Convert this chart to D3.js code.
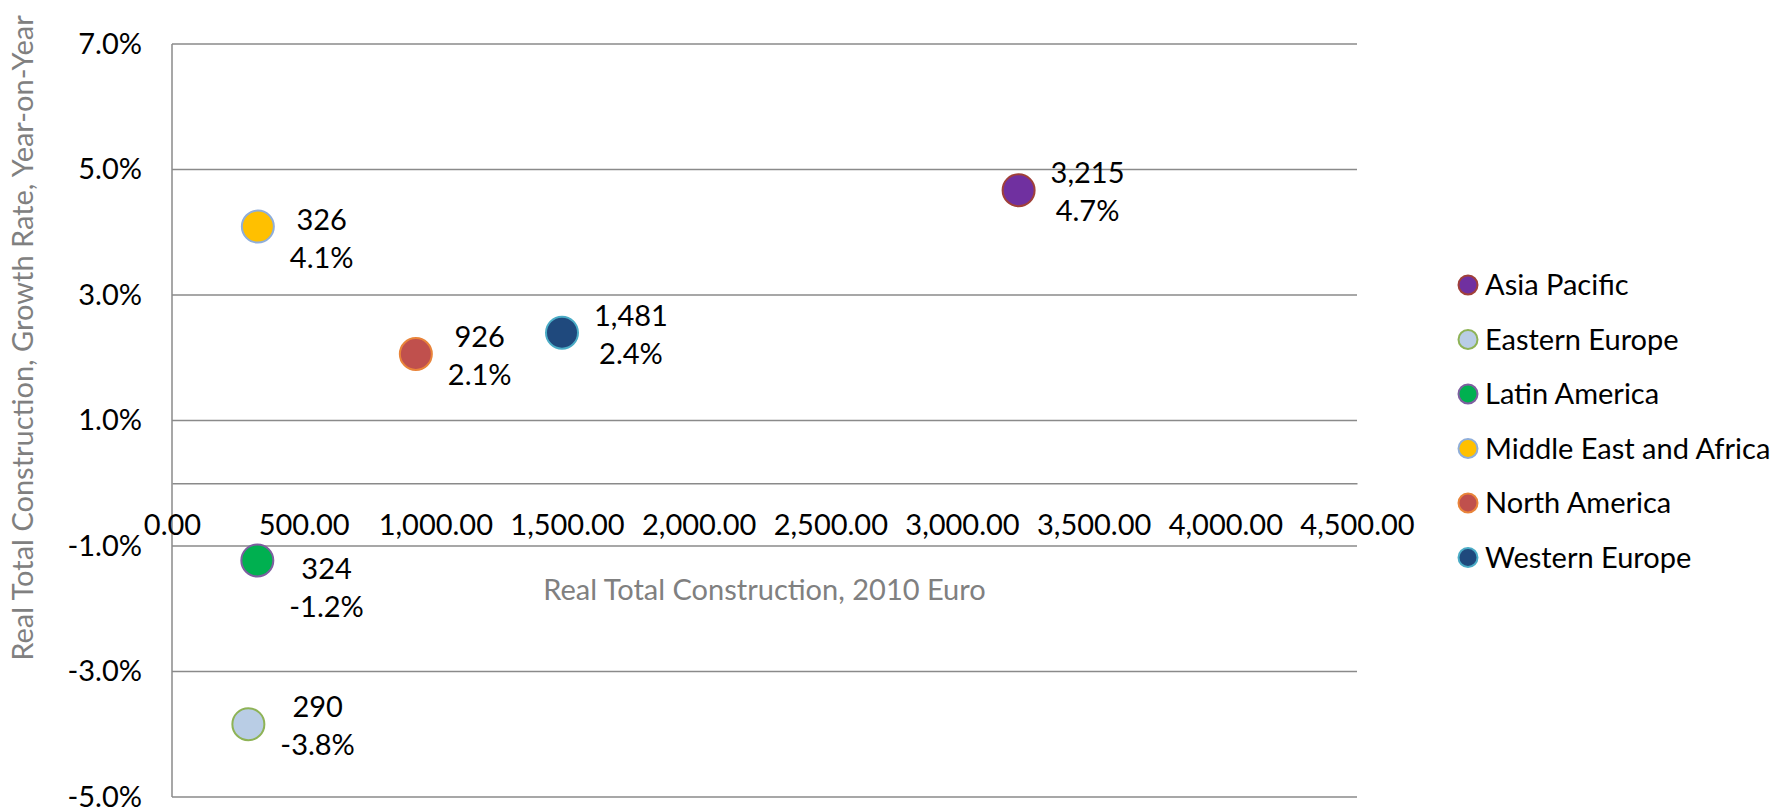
<!DOCTYPE html>
<html>
<head>
<meta charset="utf-8">
<script src="https://cdn.jsdelivr.net/npm/d3@7"></script>
<style>
  html, body { margin: 0; padding: 0; background: #ffffff; }
  svg { display: block; }
  text { font-family: Lato, "Open Sans", sans-serif; }
</style>
</head>
<body>
<svg id="chart" width="1789" height="811"></svg>
<script>
// ---- data ----
const regions = ["Asia Pacific", "Eastern Europe", "Latin America", "Middle East and Africa", "North America", "Western Europe"];
const construction = [3215, 290, 324, 326, 926, 1481];
const growth = [4.67, -3.84, -1.23, 4.09, 2.06, 2.40];
const xTicks = [0, 500, 1000, 1500, 2000, 2500, 3000, 3500, 4000, 4500];
const yTicks = [7, 5, 3, 1, -1, -3, -5];
const xTitle = "Real Total Construction, 2010 Euro";
const yTitle = "Real Total Construction, Growth Rate, Year-on-Year";

// ---- styles ----
const fills   = ["#7030A0", "#B9CDE5", "#00B050", "#FFC000", "#C0504D", "#1F497D"];
const strokes = ["#A0403A", "#8EB356", "#7E5FA0", "#8FAEDA", "#E9843A", "#4BACC6"];
const labelShiftY = [2, 2, 28, 12, 2, 2];

const loc = d3.formatLocale({ decimal: ".", thousands: ",", grouping: [3], currency: ["", ""], minus: "-" });

const svg = d3.select("#chart");
const pL = 172, pR = 1357, pT = 44, pB = 797;
const FS = 29;

const x = d3.scaleLinear().domain([0, 4500]).range([pL, pR]);
const y = d3.scaleLinear().domain([-5, 7]).range([pB, pT]);

const gridColor = "#8a8a8a";

// horizontal gridlines
svg.append("g").selectAll("line").data(yTicks).join("line")
  .attr("x1", pL).attr("x2", pR)
  .attr("y1", d => y(d)).attr("y2", d => y(d))
  .attr("stroke", gridColor).attr("stroke-width", 1.5);

// y axis line
svg.append("line").attr("x1", pL).attr("x2", pL)
  .attr("y1", y(7)).attr("y2", y(-5))
  .attr("stroke", gridColor).attr("stroke-width", 1.5);

// x axis (at 0)
const xAxis = d3.axisBottom(x).tickValues(xTicks).tickSize(0).tickPadding(0)
  .tickFormat(loc.format(",.2f"));
const gx = svg.append("g").attr("transform", `translate(0,${y(0)})`).call(xAxis);
gx.select(".domain").attr("stroke", gridColor).attr("stroke-width", 1.5);
gx.selectAll("text").attr("font-size", FS).attr("fill", "#000")
  .attr("font-family", "Lato").attr("dy", null).attr("y", 52);

// y axis labels
const yAxis = d3.axisLeft(y).tickValues(yTicks).tickSize(0).tickPadding(30)
  .tickFormat(d => loc.format(".1f")(d) + "%");
const gy = svg.append("g").attr("transform", `translate(${pL},0)`).call(yAxis);
gy.select(".domain").remove();
gy.selectAll("text").attr("font-size", FS).attr("fill", "#000")
  .attr("font-family", "Lato").attr("dy", 9);

// axis titles
svg.append("text").attr("x", (pL + pR) / 2).attr("y", 600)
  .attr("text-anchor", "middle").attr("font-size", FS).attr("fill", "#808080")
  .text(xTitle);
svg.append("text").attr("transform", "translate(33,338) rotate(-90)")
  .attr("text-anchor", "middle").attr("font-size", FS).attr("fill", "#808080")
  .text(yTitle);

// points
const data = regions.map((r, i) => ({ r, v: construction[i], g: growth[i], i }));
svg.append("g").selectAll("circle").data(data).join("circle")
  .attr("cx", d => x(d.v)).attr("cy", d => y(d.g)).attr("r", 16)
  .attr("fill", d => fills[d.i]).attr("stroke", d => strokes[d.i]).attr("stroke-width", 2);

// data labels
const fmtV = loc.format(",");
const fmtG = d => loc.format(".1f")(d) + "%";
const lg = svg.append("g");
data.forEach(d => {
  const g = lg.append("g");
  const t1 = g.append("text").attr("font-size", FS).attr("fill", "#000").attr("text-anchor", "middle").text(fmtV(d.v));
  const t2 = g.append("text").attr("font-size", FS).attr("fill", "#000").attr("text-anchor", "middle").text(fmtG(d.g));
  const w = Math.max(t1.node().getComputedTextLength(), t2.node().getComputedTextLength());
  const cx = x(d.v) + 32 + w / 2;
  const cy = y(d.g) + labelShiftY[d.i];
  t1.attr("x", cx).attr("y", cy - 19 + 10);
  t2.attr("x", cx).attr("y", cy + 19 + 10);
});

// legend
const legY = d3.scalePoint().domain(regions).range([285, 557.5]);
const leg = svg.append("g").selectAll("g").data(data).join("g")
  .attr("transform", d => `translate(1468,${legY(d.r)})`);
leg.append("circle").attr("r", 9.5)
  .attr("fill", d => fills[d.i]).attr("stroke", d => strokes[d.i]).attr("stroke-width", 2);
leg.append("text").attr("x", 17).attr("y", 10).attr("font-size", FS).attr("fill", "#000")
  .text(d => d.r);
</script>
</body>
</html>
